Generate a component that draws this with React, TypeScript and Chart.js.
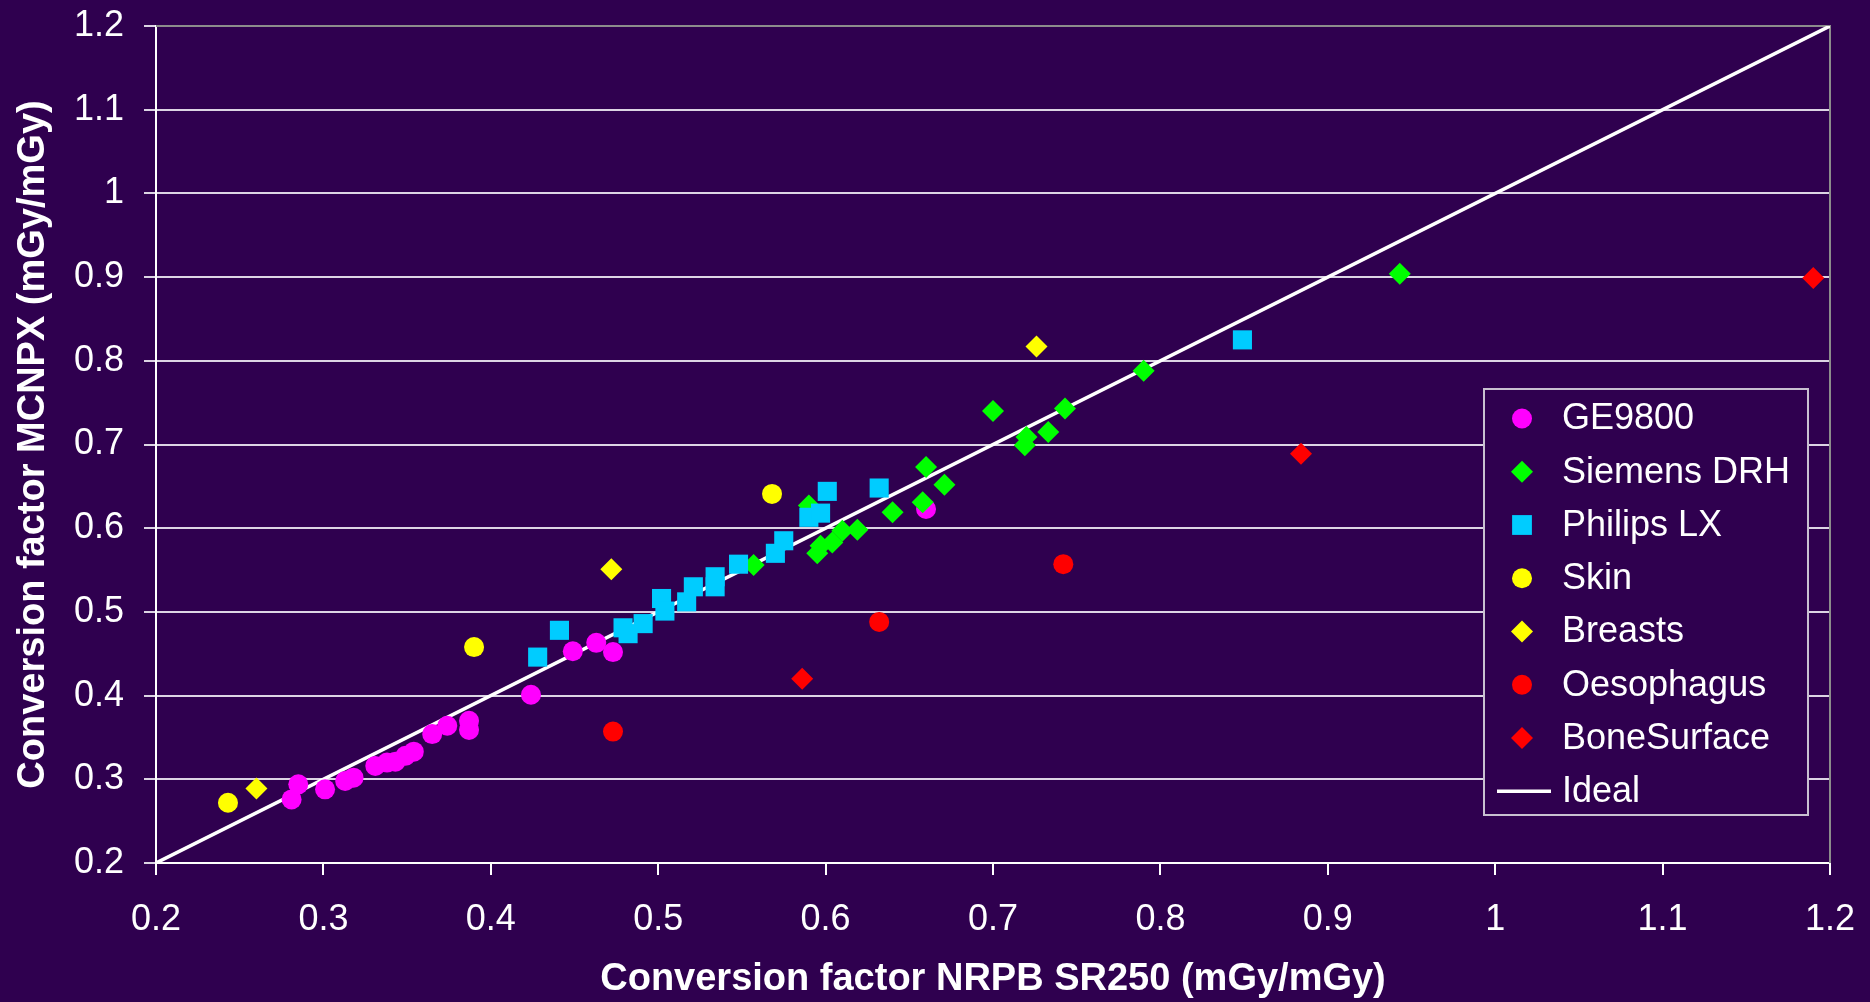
import React, { useEffect, useRef } from "react";
import { Chart, registerables } from "chart.js";

Chart.register(...registerables);

const BG = "#2F004F";
const FONT = "'Liberation Sans', Arial, Helvetica, sans-serif";

// ---- data (x = NRPB SR250, y = MCNPX) ----
const seriesNames = [
  "GE9800",
  "Siemens DRH",
  "Philips LX",
  "Skin",
  "Breasts",
  "Oesophagus",
  "BoneSurface",
  "Ideal",
];

const ge9800: [number, number][] = [
  [0.281, 0.276], [0.285, 0.294], [0.301, 0.288], [0.313, 0.298], [0.318, 0.302],
  [0.331, 0.316], [0.338, 0.32], [0.343, 0.321], [0.349, 0.328], [0.354, 0.333],
  [0.365, 0.354], [0.374, 0.364], [0.387, 0.37], [0.387, 0.359], [0.424, 0.401],
  [0.449, 0.453], [0.463, 0.463], [0.473, 0.452], [0.66, 0.623],
];

const siemensDRH: [number, number][] = [
  [0.557, 0.556], [0.59, 0.627], [0.595, 0.57], [0.597, 0.579], [0.604, 0.583],
  [0.61, 0.597], [0.619, 0.598], [0.64, 0.619], [0.658, 0.631], [0.66, 0.673],
  [0.671, 0.652], [0.7, 0.74], [0.719, 0.699], [0.72, 0.709], [0.733, 0.715],
  [0.743, 0.743], [0.79, 0.788], [0.943, 0.904],
];

const philipsLX: [number, number][] = [
  [0.428, 0.446], [0.441, 0.478], [0.479, 0.481], [0.482, 0.474], [0.491, 0.486],
  [0.502, 0.516], [0.504, 0.501], [0.517, 0.512], [0.521, 0.53], [0.534, 0.542],
  [0.534, 0.53], [0.548, 0.557], [0.57, 0.57], [0.575, 0.585], [0.59, 0.613],
  [0.597, 0.618], [0.601, 0.644], [0.632, 0.648], [0.849, 0.825],
];

const skin: [number, number][] = [[0.243, 0.272], [0.39, 0.458], [0.568, 0.641]];
const breasts: [number, number][] = [[0.26, 0.289], [0.472, 0.551], [0.726, 0.817]];
const oesophagus: [number, number][] = [[0.473, 0.357], [0.632, 0.488], [0.742, 0.557]];
const boneSurface: [number, number][] = [[0.586, 0.42], [0.884, 0.689], [1.19, 0.899]];
const ideal: [number, number][] = [[0.2, 0.2], [1.2, 1.2]];

const axisMin = 0.2;
const axisMax = 1.2;
const axisStep = 0.1;

const xTitle = "Conversion factor NRPB SR250 (mGy/mGy)";
const yTitle = "Conversion factor MCNPX (mGy/mGy)";

// ---- styles ----
const seriesStyles = [
  { color: "#FF00FF", shape: "circle", radius: 10 },
  { color: "#00FF00", shape: "rectRot", radius: 11 },
  { color: "#00CCFF", shape: "rect", radius: 13.5 },
  { color: "#FFFF00", shape: "circle", radius: 10 },
  { color: "#FFFF00", shape: "rectRot", radius: 11 },
  { color: "#FF0000", shape: "circle", radius: 10 },
  { color: "#FF0000", shape: "rectRot", radius: 11 },
];

const toPts = (arr: [number, number][]) => arr.map(([x, y]) => ({ x, y }));

function drawMarker(ctx: CanvasRenderingContext2D, shape: string, x: number, y: number, r: number, color: string) {
  ctx.fillStyle = color;
  ctx.beginPath();
  if (shape === "circle") {
    ctx.arc(x, y, r, 0, Math.PI * 2);
  } else if (shape === "rectRot") {
    ctx.moveTo(x - r, y);
    ctx.lineTo(x, y - r);
    ctx.lineTo(x + r, y);
    ctx.lineTo(x, y + r);
    ctx.closePath();
  } else {
    const s = Math.SQRT1_2 * r;
    ctx.rect(x - s, y - s, 2 * s, 2 * s);
  }
  ctx.fill();
}

const frameAndLegend = {
  id: "frameAndLegend",
  beforeDatasetsDraw(chart: any) {
    const { ctx, chartArea } = chart;
    ctx.save();
    ctx.strokeStyle = "#8C8C8C";
    ctx.lineWidth = 2;
    ctx.beginPath();
    ctx.moveTo(chartArea.left, chartArea.top);
    ctx.lineTo(chartArea.right, chartArea.top);
    ctx.lineTo(chartArea.right, chartArea.bottom);
    ctx.stroke();
    ctx.restore();
  },
  afterDraw(chart: any) {
    const { ctx, chartArea } = chart;
    ctx.save();
    const bx = chartArea.right - 346;
    const by = 389;
    const bw = 324;
    const bh = 426;
    ctx.fillStyle = BG;
    ctx.fillRect(bx, by, bw, bh);
    ctx.strokeStyle = "#C8C0D0";
    ctx.lineWidth = 2;
    ctx.strokeRect(bx, by, bw, bh);
    const rowH = 53.25;
    const firstY = 418.5;
    const markerX = bx + 38;
    const textX = bx + 78;
    ctx.font = `36px ${FONT}`;
    ctx.textBaseline = "middle";
    ctx.textAlign = "left";
    seriesNames.forEach((name, i) => {
      const y = firstY + i * rowH;
      if (i < seriesStyles.length) {
        const st = seriesStyles[i];
        const r = st.shape === "rect" ? 14 : st.radius;
        drawMarker(ctx, st.shape, markerX, y, r, st.color);
      } else {
        ctx.strokeStyle = "#FFFFFF";
        ctx.lineWidth = 3.5;
        ctx.beginPath();
        ctx.moveTo(bx + 13, y);
        ctx.lineTo(bx + 67, y);
        ctx.stroke();
      }
      ctx.fillStyle = "#FFFFFF";
      ctx.fillText(name, textX, y + 1);
    });
    ctx.restore();
  },
};

const fmt = (v: any) => String(Math.round(Number(v) * 10) / 10);

export default function App() {
  const ref = useRef<HTMLCanvasElement>(null);

  useEffect(() => {
    const canvas = ref.current;
    if (!canvas) return;
    Chart.defaults.font.family = FONT;
    Chart.defaults.color = "#FFFFFF";

    const pointSeries = [ge9800, siemensDRH, philipsLX, skin, breasts, oesophagus, boneSurface];
    const datasets: any[] = pointSeries.map((arr, i) => {
      const st = seriesStyles[i];
      return {
        label: seriesNames[i],
        data: toPts(arr),
        pointStyle: st.shape,
        pointRadius: st.radius,
        pointHoverRadius: st.radius,
        backgroundColor: st.color,
        borderColor: st.color,
        pointBorderWidth: 0,
        borderWidth: 0,
        order: 10 - i,
      };
    });
    datasets.push({
      label: seriesNames[7],
      data: toPts(ideal),
      showLine: true,
      borderColor: "#FFFFFF",
      backgroundColor: "#FFFFFF",
      borderWidth: 3.5,
      pointRadius: 0,
      order: 20,
    });

    const chart = new Chart(canvas, {
      type: "scatter",
      data: { datasets },
      plugins: [frameAndLegend],
      options: {
        animation: false,
        responsive: false,
        devicePixelRatio: 1,
        events: [],
        layout: { padding: { top: 26, right: 40, bottom: 0, left: 0 } },
        plugins: {
          legend: { display: false },
          tooltip: { enabled: false },
        },
        scales: {
          x: {
            type: "linear",
            min: axisMin,
            max: axisMax,
            afterFit: (s: any) => {
              s.height = 139;
              s.paddingLeft = 0;
              s.paddingRight = 0;
            },
            ticks: {
              stepSize: axisStep,
              autoSkip: false,
              maxRotation: 0,
              padding: 23,
              color: "#FFFFFF",
              font: { size: 36, family: FONT },
              callback: fmt,
            },
            grid: {
              drawOnChartArea: false,
              drawTicks: true,
              tickLength: 12,
              tickColor: "#FFFFFF",
              lineWidth: 2,
            },
            border: { display: true, color: "#FFFFFF", width: 2 },
            title: {
              display: true,
              text: xTitle,
              color: "#FFFFFF",
              font: { size: 38, weight: "bold", family: FONT },
              padding: { top: 0, bottom: 0 },
            },
          },
          y: {
            type: "linear",
            min: axisMin,
            max: axisMax,
            afterFit: (s: any) => {
              s.width = 156;
              s.paddingTop = 0;
              s.paddingBottom = 0;
            },
            ticks: {
              stepSize: axisStep,
              autoSkip: false,
              padding: 20,
              color: "#FFFFFF",
              font: { size: 36, family: FONT },
              callback: fmt,
            },
            grid: {
              drawOnChartArea: true,
              drawTicks: true,
              tickLength: 12,
              color: "#DCD4E4",
              tickColor: "#DCD4E4",
              lineWidth: 2,
            },
            border: { display: true, color: "#FFFFFF", width: 2 },
            title: {
              display: true,
              text: yTitle,
              color: "#FFFFFF",
              font: { size: 38, weight: "bold", family: FONT },
              padding: { top: 11, bottom: 0 },
            },
          },
        },
      },
    });
    return () => chart.destroy();
  }, []);

  return (
    <div
      style={{
        position: "fixed",
        left: 0,
        top: 0,
        width: 1870,
        height: 1002,
        background: BG,
        overflow: "hidden",
      }}
    >
      <canvas ref={ref} width={1870} height={1002} style={{ display: "block", width: 1870, height: 1002 }} />
    </div>
  );
}
